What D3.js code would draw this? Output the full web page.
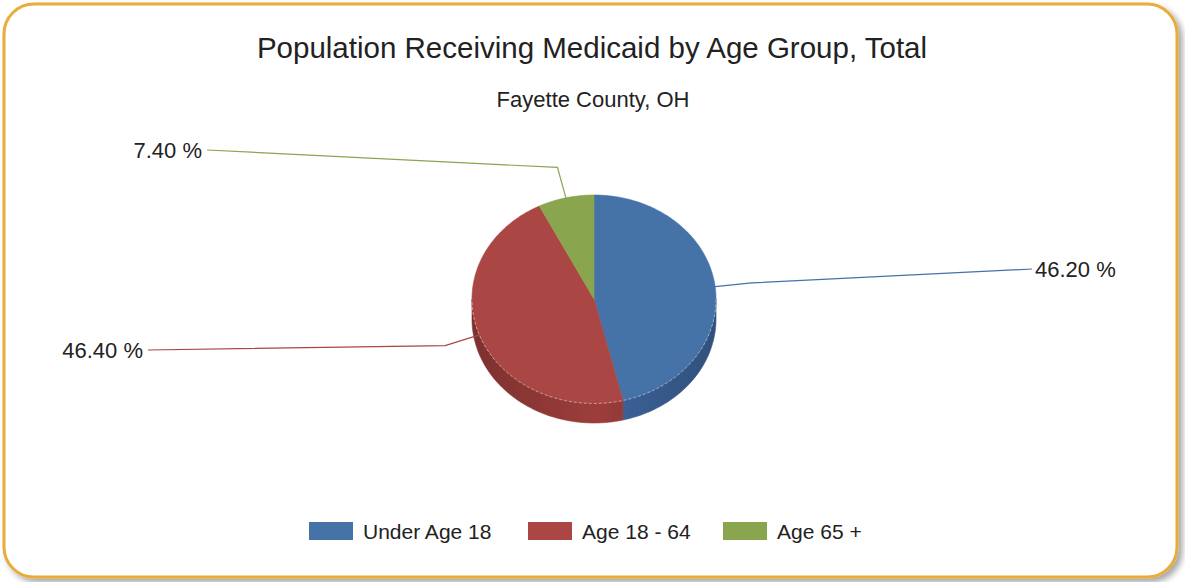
<!DOCTYPE html>
<html>
<head>
<meta charset="utf-8">
<script src="https://cdn.jsdelivr.net/npm/d3@7"></script>
<style>
  body { margin: 0; background: #fff; }
  svg { display: block; font-family: "Liberation Sans", Arial, sans-serif; }
</style>
</head>
<body>
<svg width="1185" height="582"></svg>
<script>
// Population receiving Medicaid, Fayette County OH
var categories = ["Under Age 18", "Age 18 - 64", "Age 65 +"];
var values = [46.2, 46.4, 7.4];
var colors = ["#4572A7", "#AA4643", "#89A54E"];
var sideColors = ["#36598A", "#8A3634", "#6E853C"];

// where the smart labels ended up (line end, label side)
var labelPos = [[1032, 269, "start"], [148, 350, "end"], [207, 150, "end"]];

var svg = d3.select("svg");
var defs = svg.append("defs");

// card shadow + frame
var sh = defs.append("filter").attr("id", "shadow")
  .attr("x", "-5%").attr("y", "-5%").attr("width", "115%").attr("height", "115%");
sh.append("feGaussianBlur").attr("in", "SourceAlpha").attr("stdDeviation", 3);
sh.append("feOffset").attr("dx", 4).attr("dy", 4).attr("result", "b");
sh.append("feComponentTransfer").append("feFuncA").attr("type", "linear").attr("slope", 0.35);
var mg = sh.append("feMerge");
mg.append("feMergeNode");
mg.append("feMergeNode").attr("in", "SourceGraphic");

svg.append("rect")
  .attr("x", 4).attr("y", 4).attr("width", 1173).attr("height", 573)
  .attr("rx", 30).attr("ry", 30)
  .attr("fill", "#fff").attr("stroke", "#E9AB3A").attr("stroke-width", 3)
  .attr("filter", "url(#shadow)");

// titles
svg.append("text").attr("x", 592).attr("y", 58).attr("text-anchor", "middle")
  .attr("font-size", 29.5).attr("fill", "#222")
  .text("Population Receiving Medicaid by Age Group, Total");
svg.append("text").attr("x", 593).attr("y", 107).attr("text-anchor", "middle")
  .attr("font-size", 22).attr("fill", "#222")
  .text("Fayette County, OH");

// pie geometry (tilted ellipse)
var cx = 594, cy = 299, rx = 122, ry = 104, depth = 20;
var pie = d3.pie().sort(null).value(function(d) { return d; });
var arcs = pie(values);

function pt(a, k, dy) {
  k = k || 1; dy = dy || 0;
  return [cx + rx * k * Math.sin(a), cy - ry * k * Math.cos(a) + dy];
}
function arcPts(a0, a1, dy) {
  var n = Math.max(2, Math.ceil(Math.abs(a1 - a0) / 0.02));
  return d3.range(n + 1).map(function(i) { return pt(a0 + (a1 - a0) * i / n, 1, dy); });
}

var g = svg.append("g");

// side walls, only the front half (angles between PI/2 and 3PI/2)
arcs.forEach(function(d, i) {
  var a0 = Math.max(d.startAngle, Math.PI / 2), a1 = Math.min(d.endAngle, 3 * Math.PI / 2);
  if (a1 <= a0) return;
  var gid = "side" + i;
  var lg = defs.append("linearGradient").attr("id", gid)
    .attr("gradientUnits", "userSpaceOnUse")
    .attr("x1", cx - rx).attr("x2", cx + rx).attr("y1", 0).attr("y2", 0);
  lg.append("stop").attr("offset", "0%").attr("stop-color", d3.color(sideColors[i]).darker(0.3));
  lg.append("stop").attr("offset", "50%").attr("stop-color", d3.color(sideColors[i]).brighter(0.35));
  lg.append("stop").attr("offset", "100%").attr("stop-color", d3.color(sideColors[i]).darker(0.3));
  var top = arcPts(a0, a1, 0), bot = arcPts(a1, a0, depth);
  g.append("path")
    .attr("d", "M" + top.concat(bot).join("L") + "Z")
    .attr("fill", "url(#" + gid + ")")
    .attr("stroke", "url(#" + gid + ")").attr("stroke-width", 0.6);
});

// top faces
arcs.forEach(function(d, i) {
  var p = arcPts(d.startAngle, d.endAngle, 0);
  g.append("path")
    .attr("d", "M" + [cx, cy] + "L" + p.join("L") + "Z")
    .attr("fill", colors[i])
    .attr("stroke", colors[i]).attr("stroke-width", 0.6);
});

// faint rim highlight on the front edge
g.append("path")
  .attr("d", "M" + arcPts(Math.PI / 2, 3 * Math.PI / 2, 0.5).join("L"))
  .attr("fill", "none").attr("stroke", "#fff").attr("stroke-opacity", 0.45)
  .attr("stroke-width", 1).attr("stroke-dasharray", "3,2");

// leader lines and labels
var fmt = d3.format(".2f");
arcs.forEach(function(d, i) {
  var mid = (d.startAngle + d.endAngle) / 2;
  var p0 = pt(mid, 1), p1 = pt(mid, 1.3), lp = labelPos[i];
  svg.append("polyline")
    .attr("points", [p0, p1, [lp[0], lp[1]]].join(" "))
    .attr("fill", "none").attr("stroke", colors[i]).attr("stroke-width", 1.2);
  svg.append("text")
    .attr("x", lp[2] === "start" ? lp[0] + 3 : lp[0] - 5)
    .attr("y", lp[1] + 8)
    .attr("text-anchor", lp[2])
    .attr("font-size", 22).attr("fill", "#222")
    .text(fmt(values[i]) + " %");
});

// legend
var legX = [309, 528, 723];
var leg = svg.append("g").selectAll("g").data(categories).enter().append("g")
  .attr("transform", function(d, i) { return "translate(" + legX[i] + ",522)"; });
leg.append("rect").attr("width", 44).attr("height", 18)
  .attr("fill", function(d, i) { return colors[i]; });
leg.append("text").attr("x", 54).attr("y", 17)
  .attr("font-size", 21).attr("fill", "#222")
  .text(function(d) { return d; });
</script>
</body>
</html>
